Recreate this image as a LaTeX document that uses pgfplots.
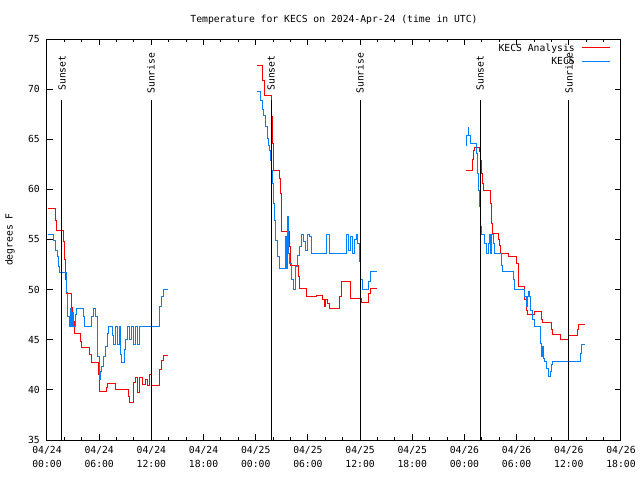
\documentclass[border=0pt]{standalone}
\usepackage{pgfplots}
\pgfplotsset{compat=1.18}
\usepackage{fontspec}
\setmainfont{DejaVu Sans Mono}
\definecolor{kblue}{RGB}{0,128,255}
\begin{document}
\begin{tikzpicture}[font=\fontsize{7.3}{10.5}\selectfont]
\useasboundingbox (-35.25pt,-30pt) rectangle (444.75pt,330pt);
\begin{axis}[
  at={(0,0)}, anchor=south west,
  width=430.5pt, height=300.75pt, scale only axis,
  xmin=0, xmax=66, ymin=35, ymax=75,
  xtick={0,6,...,66},
  xticklabels={{04/24\\00:00},{04/24\\06:00},{04/24\\12:00},{04/24\\18:00},{04/25\\00:00},{04/25\\06:00},{04/25\\12:00},{04/25\\18:00},{04/26\\00:00},{04/26\\06:00},{04/26\\12:00},{04/26\\18:00}},
  minor x tick num=2,
  ytick={35,40,...,75},
  /pgf/number format/assume math mode=true,
  tick align=inside,
  major tick length=4.5pt, minor tick length=2.25pt,
  axis line style={line width=0.75pt},
  tick style={line width=0.75pt, black},
  xticklabel style={align=center, anchor=north, inner sep=0pt, yshift=-4.5pt},
  yticklabel style={anchor=east, inner sep=0pt, xshift=-5.25pt},
  title={Temperature for KECS on 2024-Apr-24 (time in UTC)},
  title style={at={(axis description cs:0.5,1)}, anchor=center, yshift=8.25pt, inner sep=0pt},
  ylabel={degrees F},
  ylabel style={at={(axis description cs:-0.0645,0.5)}, anchor=center, inner sep=0pt},
]
% KECS Analysis day 1
\addplot[red, line width=0.75pt, const plot mark left] coordinates {
(0.1,58.1) (1.0,56.9) (1.1,55.85) (1.87,54.8) (2.0,53.0) (2.13,51.0) (2.26,49.6)
(2.84,48.2) (2.96,46.8) (3.14,45.6) (3.87,44.8) (4.02,44.2) (4.86,43.5) (5.06,42.7)
(5.9,41.5) (6.01,39.8) (6.86,40.2) (7.0,40.6) (7.93,40.0) (9.35,39.3) (9.54,38.7)
(9.89,40.7) (10.15,41.2) (10.38,39.7) (10.69,41.2) (10.98,40.5) (11.27,41.0)
(11.53,40.4) (11.76,41.5) (11.96,40.4) (12.91,42.0) (13.11,42.9) (13.34,43.4) (13.88,43.4)
};
% KECS day 1
\addplot[kblue, line width=0.75pt, const plot mark left] coordinates {
(0.1,55.45) (0.8,54.95) (1.03,53.95) (1.2,53.3) (1.32,52.3) (1.44,51.7) (2.26,49.7)
(2.41,47.3) (2.59,46.3) (2.7,48.1) (2.82,46.3) (2.93,47.7) (3.05,46.3) (3.22,47.5)
(3.37,48.1) (4.17,47.3) (4.31,46.3) (5.14,47.3) (5.32,48.1) (5.55,47.3) (5.75,46.3)
(5.86,43.3) (5.98,41.0) (6.15,41.8) (6.32,42.3) (6.47,43.3) (6.67,44.3) (6.9,45.6)
(7.09,46.3) (7.56,45.4) (7.7,44.5) (7.93,46.3) (8.16,44.5) (8.31,46.3) (8.47,43.5)
(8.59,42.75) (8.89,44.0) (9.08,45.0) (9.23,46.3) (9.54,45.0) (9.69,46.3) (9.89,44.5)
(10.12,46.3) (10.35,44.5) (10.58,46.3) (12.91,48.3) (13.14,49.3) (13.37,50.0) (13.88,50.0)
};
% day 2
\addplot[red, line width=0.75pt, const plot mark left] coordinates {
(24.18,72.4) (24.8,70.9) (25.0,69.4) (25.84,67.25) (25.93,64.6) (26.04,61.9)
(26.71,61.1) (26.85,59.6) (26.96,55.8) (27.86,54.3) (28.0,52.45) (28.9,51.3)
(29.03,50.1) (29.86,49.3) (31.01,49.45) (31.7,49.0) (31.91,48.3) (32.08,49.0)
(32.25,48.6) (32.46,48.1) (33.69,49.3) (33.92,50.8) (34.84,49.1) (36.18,48.7)
(36.94,49.6) (37.2,50.1) (37.91,50.1)
};
\addplot[kblue, line width=0.75pt, const plot mark left] coordinates {
(24.18,69.75) (24.57,68.9) (24.78,68.0) (24.95,67.4) (25.18,66.25) (25.35,65.1)
(25.47,64.4) (25.58,63.9) (25.7,62.9) (25.81,61.9) (25.93,60.6) (26.04,58.6)
(26.16,56.9) (26.33,54.95) (26.5,53.3) (26.68,52.1) (27.37,55.3) (27.54,52.1)
(27.65,57.3) (27.77,53.6) (27.88,52.6) (28.06,51.0) (28.29,50.0) (28.52,52.3)
(28.75,53.45) (28.98,54.3) (29.21,55.45) (29.55,54.8) (29.78,53.95) (30.01,55.45)
(30.24,55.3) (30.47,53.6) (32.16,55.45) (32.43,53.6) (34.46,55.45) (34.69,53.95)
(34.92,55.3) (35.15,53.6) (35.41,55.0) (35.59,55.45) (35.7,54.6) (35.93,52.8)
(36.1,51.0) (36.25,50.0) (36.94,50.8) (37.2,51.8) (37.91,51.8)
};
% day 3
\addplot[red, line width=0.75pt, const plot mark left] coordinates {
(48.18,61.9) (48.9,63.0) (49.04,63.9) (49.21,64.2) (49.71,63.75) (49.85,62.9)
(49.96,61.6) (50.07,60.6) (50.19,59.9) (51.02,58.6) (51.13,56.6) (51.25,55.55)
(51.89,55.0) (52.03,54.45) (52.14,53.6) (53.04,53.3) (54.01,52.6) (54.16,50.8)
(54.27,50.35) (54.96,49.0) (55.13,47.95) (55.25,47.5) (56.11,47.8) (56.88,47.0)
(57.03,46.7) (58.03,46.0) (58.18,45.5) (58.99,45.05) (60.02,45.45) (61.02,46.0)
(61.17,46.5) (61.86,46.5)
};
\addplot[kblue, line width=0.75pt, const plot mark left] coordinates {
(48.18,64.4) (48.29,65.4) (48.41,66.2) (48.52,65.4) (48.64,64.6) (49.33,63.6)
(49.5,61.6) (49.62,59.9) (49.71,58.3) (49.82,56.3) (49.96,55.45) (50.36,54.6)
(50.53,53.6) (50.71,54.6) (50.88,55.45) (50.99,53.6) (51.16,55.45) (51.34,54.6)
(51.45,53.6) (52.28,52.45) (52.43,51.8) (53.62,51.0) (53.81,50.0) (54.96,49.3)
(55.13,48.3) (55.25,49.3) (55.37,49.8) (55.48,49.3) (55.59,47.95) (55.77,47.0)
(56.0,46.3) (56.69,44.65) (56.86,43.3) (56.97,44.3) (57.09,43.15) (57.26,42.8)
(57.49,42.15) (57.72,41.3) (57.89,41.8) (58.01,42.5) (58.12,42.8) (61.29,43.65)
(61.46,44.5) (61.86,44.5)
};
% sunset / sunrise lines
\addplot[black, line width=0.75pt] coordinates {(1.72,68.9) (1.72,35)};
\addplot[black, line width=0.75pt] coordinates {(11.96,68.9) (11.96,35)};
\addplot[black, line width=0.75pt] coordinates {(25.76,68.9) (25.76,35)};
\addplot[black, line width=0.75pt] coordinates {(35.99,68.9) (35.99,35)};
\addplot[black, line width=0.75pt] coordinates {(49.79,68.9) (49.79,35)};
\addplot[black, line width=0.75pt] coordinates {(60.02,68.9) (60.02,35)};
\node[rotate=90, inner sep=0pt] at (axis cs:1.72,71.6) {Sunset};
\node[rotate=90, inner sep=0pt] at (axis cs:11.96,71.6) {Sunrise};
\node[rotate=90, inner sep=0pt] at (axis cs:25.76,71.6) {Sunset};
\node[rotate=90, inner sep=0pt] at (axis cs:35.99,71.6) {Sunrise};
\node[rotate=90, inner sep=0pt] at (axis cs:49.79,71.6) {Sunset};
\node[rotate=90, inner sep=0pt] at (axis cs:60.02,71.6) {Sunrise};
% legend
\node[anchor=mid east, inner sep=0pt] at (axis description cs:0.9199,0.9776) {KECS Analysis};
\node[anchor=mid east, inner sep=0pt] at (axis description cs:0.9199,0.9451) {KECS};
\draw[red, line width=0.75pt] (axis description cs:0.932,0.9776) -- (axis description cs:0.981,0.9776);
\draw[kblue, line width=0.75pt] (axis description cs:0.932,0.9451) -- (axis description cs:0.981,0.9451);
\end{axis}
\end{tikzpicture}
\end{document}
